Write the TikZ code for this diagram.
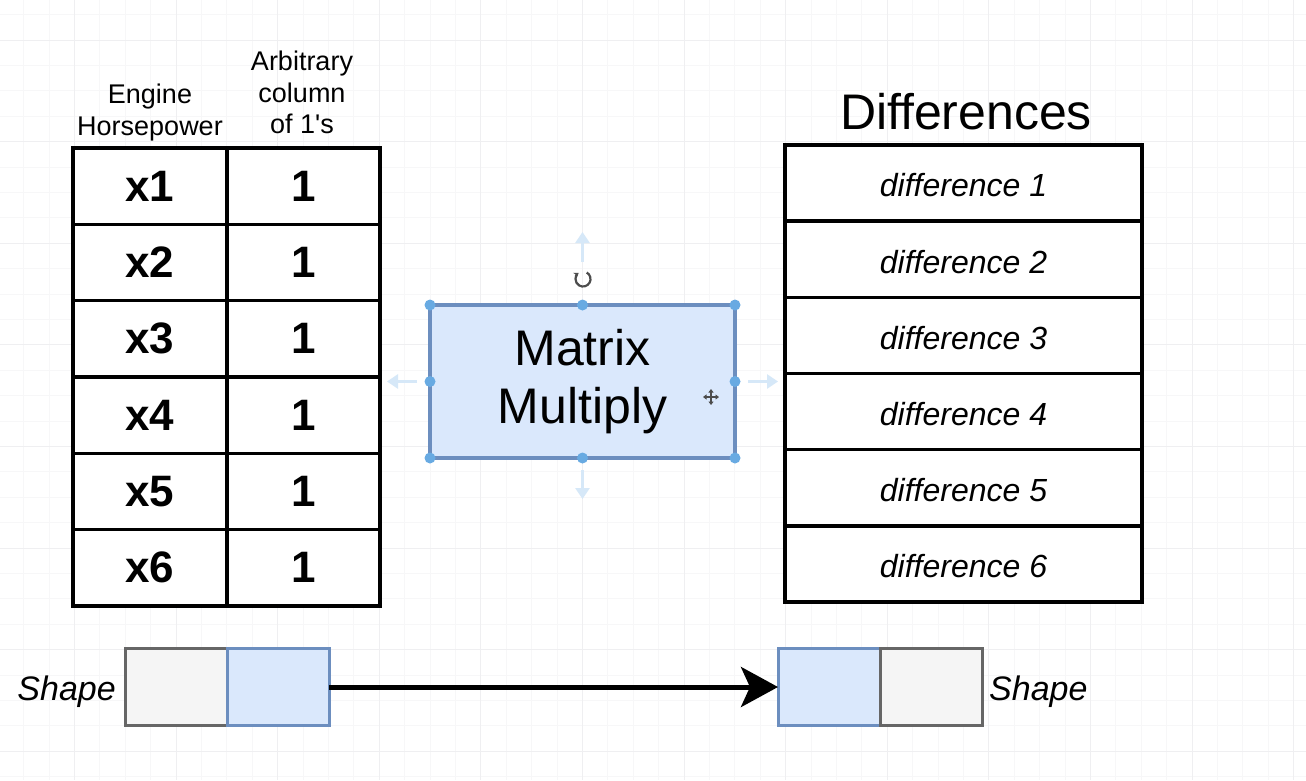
\documentclass[tikz,border=0pt]{standalone}
\usepackage{fontspec}
\setmainfont{Liberation Sans}
\usetikzlibrary{arrows.meta,positioning}
\definecolor{dioBlue}{RGB}{218,232,252}
\definecolor{dioBlueLine}{RGB}{108,142,191}
\definecolor{dioGray}{RGB}{245,245,245}
\definecolor{dioGrayLine}{RGB}{102,102,102}
\definecolor{selBlue}{RGB}{104,170,226}
\definecolor{hintBlue}{RGB}{214,232,248}
\definecolor{gridMinor}{RGB}{247,247,248}
\definecolor{gridMajor}{RGB}{239,239,241}

\begin{document}
\begin{tikzpicture}[
  x=1pt, y=-1pt,
  cell/.style={draw, line width=3.5pt, fill=white, inner sep=0pt, outer sep=0pt},
  val/.style={cell, font=\fontsize{44}{50}\selectfont\bfseries, minimum height=76.33pt},
  diff/.style={cell, font=\fontsize{32}{38}\selectfont\itshape, text height=28pt, minimum width=357pt, minimum height=76.17pt},
  hdr/.style={align=center, inner sep=0pt, font=\fontsize{27}{31.5}\selectfont},
  mm/.style={draw=dioBlueLine, fill=dioBlue, line width=3.5pt, inner sep=0pt, outer sep=0pt,
    minimum width=305pt, minimum height=153pt, align=center, font=\fontsize{50}{58}\selectfont},
  bbox/.style={draw=dioBlueLine, fill=dioBlue, line width=3pt, minimum width=102pt, minimum height=77pt, inner sep=0pt, outer sep=0pt},
  gbox/.style={draw=dioGrayLine, fill=dioGray, line width=3pt, minimum width=102pt, minimum height=77pt, inner sep=0pt, outer sep=0pt},
  shapelbl/.style={inner sep=0pt, yshift=-5pt, font=\fontsize{34}{40}\selectfont\itshape},
  flow/.style={-{Stealth[length=37pt, width=40pt, inset=9pt]}, line width=5pt},
  hint/.style={-{Triangle[length=11pt, width=14pt]}, line width=3.5pt, hintBlue},
  icon/.style={line width=2.2pt, black!70},
]
% canvas + grid
\fill[white] (0,0) rectangle (1306,780);
\useasboundingbox (0,0) rectangle (1306,780);
\foreach \gx in {23.6,49,...,1306} \draw[gridMinor, line width=1pt] (\gx,0) -- (\gx,780);
\foreach \gy in {14.6,40,...,780} \draw[gridMinor, line width=1pt] (0,\gy) -- (1306,\gy);
\foreach \gx in {74.4,176,...,1306} \draw[gridMajor, line width=1pt] (\gx,0) -- (\gx,780);
\foreach \gy in {40,141.6,...,780} \draw[gridMajor, line width=1pt] (0,\gy) -- (1306,\gy);
% headers
\node[hdr] (hEngine) at (150,112.5) {Engine\\Horsepower};
\node[hdr] (hOnes) at (302,92.5) {Arbitrary\\column\\of 1\textquotesingle s};
\node[inner sep=0pt, font=\fontsize{50}{58}\selectfont] (hDiff) at (966,112) {Differences};
% tables
\foreach \i in {1,...,6} {
  \node[val, minimum width=154pt] (x\i) at (150,{148+76.33*(\i-0.5)}) {x\i};
  \node[val, minimum width=153pt] (one\i) at (303.5,{148+76.33*(\i-0.5)}) {1};
  \node[diff] (d\i) at (963.5,{145+76.17*(\i-0.5)}) {difference \i};
}
% matrix multiply (selected)
\node[mm] (mm) at (582.5,381.5) {Matrix\\Multiply};
\foreach \a in {north west,north,north east,east,south east,south,south west,west}
  \fill[selBlue] (mm.\a) circle (5.5);
\draw[hint] (mm.north) ++(0,-43) -- ++(0,-30);
\draw[hint] (mm.south) ++(0,12) -- ++(0,29);
\draw[hint] (mm.west) ++(-13,0) -- ++(-30,0);
\draw[hint] (mm.east) ++(13,0) -- ++(30,0);
\coordinate (rotc) at (583,279);
\begin{scope}[shift={(rotc)}, x=1pt, y=1pt]
  \draw[icon, -{Stealth[length=4.5pt, width=6pt]}] (60:7.5) arc[start angle=60, end angle=-235, radius=7.5];
\end{scope}
\coordinate (movec) at (711,397);
\draw[icon, line width=1.8pt, {Triangle[length=3.5pt, width=5pt]}-{Triangle[length=3.5pt, width=5pt]}] (movec) ++(-8,0) -- ++(16,0);
\draw[icon, line width=1.8pt, {Triangle[length=3.5pt, width=5pt]}-{Triangle[length=3.5pt, width=5pt]}] (movec) ++(0,-8) -- ++(0,16);
% shapes
\node[gbox] (ls1) at (176,687) {};
\node[bbox, right=0pt of ls1] (ls2) {};
\node[bbox] (rs1) at (829,687) {};
\node[gbox, right=0pt of rs1] (rs2) {};
\node[shapelbl, left=9pt of ls1] (lsLbl) {Shape};
\node[shapelbl, right=7pt of rs2] (rsLbl) {Shape};
\draw[flow] (ls2) -- (rs1);
\end{tikzpicture}
\end{document}
